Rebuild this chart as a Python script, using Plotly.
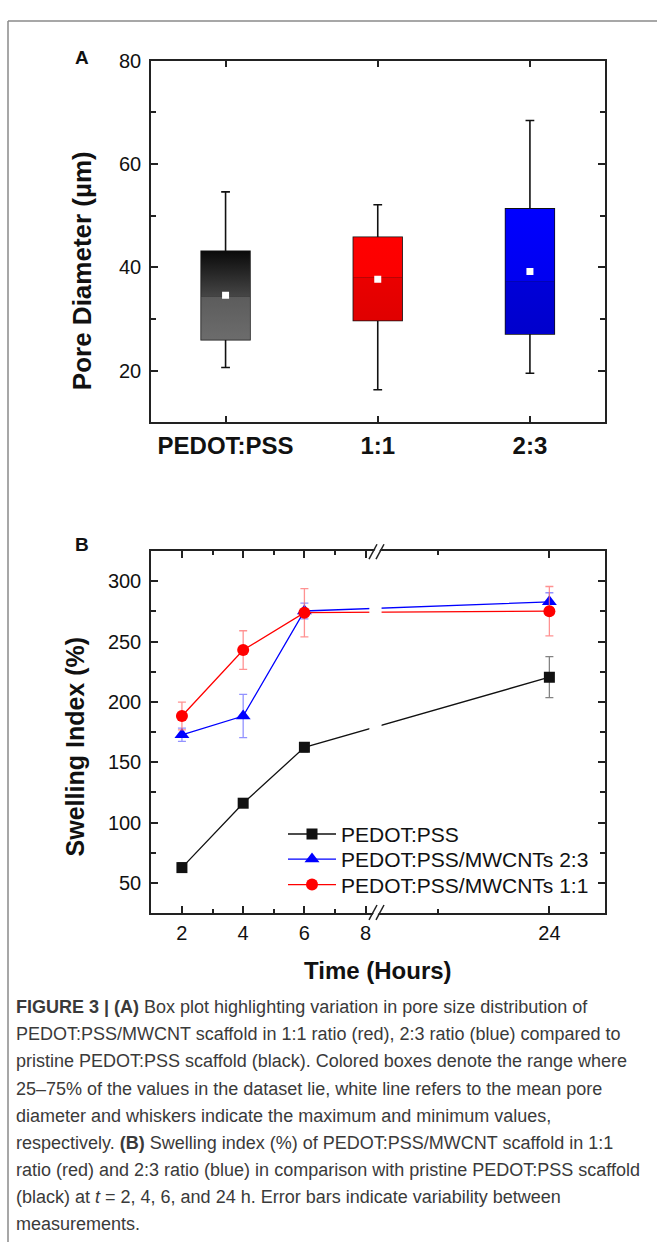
import plotly.graph_objects as go

W, H = 657, 1242

# ---------------- Panel A data (pore diameter, µm) ----------------
groups = ["PEDOT:PSS", "1:1", "2:3"]
q_min = [20.6, 16.3, 19.5]
q1 = [26.0, 29.7, 27.1]
median = [34.3, 38.0, 37.3]
q3 = [43.1, 45.8, 51.3]
q_max = [54.6, 52.1, 68.4]
mean = [34.6, 37.7, 39.2]
# upper-half / lower-half shading of each box: (top colour, bottom colour)
upper_shade = [("#0a0a0a", "#464646"), ("#ff0000", "#fb0000"), ("#0000ff", "#0000f0")]
lower_shade = [("#5c5c5c", "#6c6c6c"), ("#ea0000", "#e00000"), ("#0000d8", "#0000cc")]

# ---------------- Panel B data (swelling index, %) ----------------
hours = [2, 4, 6, 24]
series_names = ["PEDOT:PSS", "PEDOT:PSS/MWCNTs 2:3", "PEDOT:PSS/MWCNTs 1:1"]
swell_pedot = [62.6, 116.0, 162.3, 220.5]
err_pedot = [4, 3, 4, 17]
swell_23 = [172.7, 188.3, 275.4, 283.0]
err_23 = [5.5, 18, 6.5, 7.5]
swell_11 = [188.3, 243.0, 274.0, 275.2]
err_11 = [11.5, 16, 20, 20.5]

x_major = [2, 4, 6, 8, 24]
x_minor = [3, 5, 7, 20]

# broken time axis: hours up to the break are linear, after the break a compressed segment
BREAK_POS = 8.3
SEG2_H, SEG2_POS, SEG2_SCALE = 24, 14.0, 0.9125


def xpos(h):
    return h if h <= BREAK_POS else SEG2_POS + (h - SEG2_H) * SEG2_SCALE


FONT = "Liberation Sans, Arial, sans-serif"
AX = "#222222"

fig = go.Figure()

# ---- Panel A: shaded box halves ----
BOX_W = 0.32
for i in range(len(groups)):
    xs = [i - BOX_W / 2, i + BOX_W / 2, i + BOX_W / 2, i - BOX_W / 2, i - BOX_W / 2]
    for lo, hi, (ctop, cbot) in ((median[i], q3[i], upper_shade[i]), (q1[i], median[i], lower_shade[i])):
        fig.add_trace(go.Scatter(
            x=xs, y=[lo, lo, hi, hi, lo], mode="lines", fill="toself",
            line=dict(width=0, color=cbot),
            fillgradient=dict(type="vertical", colorscale=[[0, cbot], [1, ctop]]),
            xaxis="x", yaxis="y", showlegend=False, hoverinfo="skip"))

for i, g in enumerate(groups):
    fig.add_trace(go.Box(
        x=[i], q1=[q1[i]], median=[median[i]], q3=[q3[i]],
        lowerfence=[q_min[i]], upperfence=[q_max[i]],
        width=BOX_W, whiskerwidth=0.18, fillcolor="rgba(0,0,0,0)",
        line=dict(color="#111111", width=1.6), boxpoints=False,
        xaxis="x", yaxis="y", showlegend=False, hoverinfo="skip", name=g))

fig.add_trace(go.Scatter(
    x=list(range(len(groups))), y=mean, mode="markers",
    marker=dict(symbol="square", size=7, color="white", line=dict(width=0)),
    xaxis="x", yaxis="y", showlegend=False, hoverinfo="skip"))

# ---- Panel B ----
xp = [xpos(h) for h in hours]
specs = [
    (series_names[0], swell_pedot, err_pedot, "#111111", "rgba(90,90,90,0.75)", "square", 11, "legend"),
    (series_names[1], swell_23, err_23, "#0000ff", "rgba(110,110,255,0.75)", "triangle-up", 13, "legend2"),
    (series_names[2], swell_11, err_11, "#ff0000", "rgba(255,110,110,0.75)", "circle", 12, "legend3"),
]
for name, ys, es, col, ecol, sym, sz, lg in specs:
    fig.add_trace(go.Scatter(
        x=xp, y=ys, name=name, mode="lines+markers",
        line=dict(color=col, width=1.3),
        marker=dict(symbol=sym, size=sz, color=col),
        error_y=dict(type="data", array=es, visible=True, color=ecol, thickness=1.3, width=4),
        xaxis="x2", yaxis="y2", legend=lg))

XD = [151 / W, 604.5 / W]


def leg(yc):
    return dict(x=283 / W, y=1 - yc / H, xanchor="left", yanchor="middle",
                bgcolor="rgba(0,0,0,0)", font=dict(size=21, color="#111", family=FONT),
                itemwidth=48)


fig.update_layout(
    width=W, height=H, margin=dict(l=0, r=0, t=0, b=0),
    paper_bgcolor="white", plot_bgcolor="white",
    font=dict(family=FONT, color="#111111", size=20),
    xaxis=dict(domain=XD, anchor="y", range=[-0.49, 2.49],
               tickmode="array", tickvals=list(range(len(groups))),
               ticktext=["<b>%s</b>" % g for g in groups],
               tickfont=dict(size=24, color="#111"),
               ticks="inside", ticklen=7, tickwidth=1.5, tickcolor=AX,
               showline=True, linecolor=AX, linewidth=1.5, mirror="ticks",
               showgrid=False, zeroline=False, ticklabelstandoff=1),
    yaxis=dict(domain=[1 - 415 / H, 1 - 50 / H], anchor="x", range=[10, 80],
               tickmode="array", tickvals=[20, 40, 60, 80],
               minor=dict(tickmode="array", tickvals=[30, 50, 70], ticks="inside",
                          ticklen=5, tickwidth=1.5, tickcolor=AX),
               tickfont=dict(size=20, color="#111"),
               ticks="inside", ticklen=7, tickwidth=1.5, tickcolor=AX,
               showline=True, linecolor=AX, linewidth=1.5, mirror="ticks",
               showgrid=False, zeroline=False, ticklabelstandoff=4),
    xaxis2=dict(domain=XD, anchor="y2", range=[0.99, 15.8],
                tickmode="array", tickvals=[xpos(h) for h in x_major],
                ticktext=[str(h) for h in x_major],
                minor=dict(tickmode="array", tickvals=[xpos(h) for h in x_minor], ticks="inside",
                           ticklen=4, tickwidth=1.5, tickcolor=AX),
                tickfont=dict(size=20, color="#111"),
                ticks="inside", ticklen=7, tickwidth=1.5, tickcolor=AX,
                showline=True, linecolor=AX, linewidth=1.5, mirror="ticks",
                showgrid=False, zeroline=False, ticklabelstandoff=1),
    yaxis2=dict(domain=[1 - 910 / H, 1 - 545 / H], anchor="x2", range=[25, 325],
                tickmode="array", tickvals=[50, 100, 150, 200, 250, 300],
                minor=dict(tickmode="array", tickvals=[75, 125, 175, 225, 275], ticks="inside",
                           ticklen=5, tickwidth=1.5, tickcolor=AX),
                tickfont=dict(size=20, color="#111"),
                ticks="inside", ticklen=7, tickwidth=1.5, tickcolor=AX,
                showline=True, linecolor=AX, linewidth=1.5, mirror="ticks",
                showgrid=False, zeroline=False, ticklabelstandoff=4),
    legend=leg(830.7), legend2=leg(856), legend3=leg(881.7),
    showlegend=True,
)

# ---- break decorations on the time axis ----
shapes = []
# gap in the data lines at the break
shapes.append(dict(type="rect", xref="x2", yref="y2", x0=8.12, x1=8.52, y0=120, y1=310,
                   fillcolor="white", line=dict(width=0), layer="above"))


def px(x):
    return x / W


def py(y):
    return 1 - y / H


for yb in (553, 917):
    yt = yb - 15
    a0, a1 = 369, 377
    b0, b1 = 376, 384
    shapes.append(dict(type="path", xref="paper", yref="paper",
                       path="M %f,%f L %f,%f L %f,%f L %f,%f Z" % (px(a0 + 1), py(yb), px(a1 + 1), py(yt),
                                                                     px(b1 - 1), py(yt), px(b0 - 1), py(yb)),
                       fillcolor="white", line=dict(width=0), layer="above"))
    for s0, s1 in ((a0, a1), (b0, b1)):
        shapes.append(dict(type="line", xref="paper", yref="paper",
                           x0=px(s0), y0=py(yb), x1=px(s1), y1=py(yt),
                           line=dict(color=AX, width=1.5), layer="above"))

# ---- figure frame ----
shapes.append(dict(type="line", xref="paper", yref="paper", x0=px(8), x1=1, y0=py(10), y1=py(10),
                   line=dict(color="#8a8a8a", width=1.5)))
shapes.append(dict(type="line", xref="paper", yref="paper", x0=px(8), x1=px(8), y0=py(10), y1=0,
                   line=dict(color="#8a8a8a", width=1.5)))
fig.update_layout(shapes=shapes)

# ---- titles and labels ----
ann = []


def label(text, x, y, size, angle=0, bold=True, anchor="center"):
    ann.append(dict(text=("<b>%s</b>" % text) if bold else text, x=px(x), y=py(y),
                    xref="paper", yref="paper", showarrow=False, textangle=angle,
                    xanchor=anchor, yanchor="middle",
                    font=dict(family=FONT, size=size, color="#111")))


label("A", 82, 46.5, 19)
label("B", 82, 538, 19)
label("Pore Diameter (µm)", 82, 262.5, 26, angle=-90)
label("Swelling Index (%)", 75, 743, 25, angle=-90)
label("Time (Hours)", 378, 968, 24)

caption = [
    "<b>FIGURE 3 | (A)</b> Box plot highlighting variation in pore size distribution of",
    "PEDOT:PSS/MWCNT scaffold in 1:1 ratio (red), 2:3 ratio (blue) compared to",
    "pristine PEDOT:PSS scaffold (black). Colored boxes denote the range where",
    "25–75% of the values in the dataset lie, white line refers to the mean pore",
    "diameter and whiskers indicate the maximum and minimum values,",
    "respectively. <b>(B)</b> Swelling index (%) of PEDOT:PSS/MWCNT scaffold in 1:1",
    "ratio (red) and 2:3 ratio (blue) in comparison with pristine PEDOT:PSS scaffold",
    "(black) at <i>t</i> = 2, 4, 6, and 24 h. Error bars indicate variability between",
    "measurements.",
]
for k, line in enumerate(caption):
    ann.append(dict(text=line, x=px(14), y=py(1005 + k * 27.4), xref="paper", yref="paper",
                    showarrow=False, xanchor="left", yanchor="middle", align="left",
                    font=dict(family=FONT, size=18, color="#3a3a3a")))

fig.update_layout(annotations=ann)
fig.write_html(
    "out.html",
    config={"displayModeBar": False},
    post_script=(
        "document.documentElement.style.margin='0';document.documentElement.style.padding='0';"
        "document.body.style.margin='0';document.body.style.padding='0';"
        "document.body.style.overflow='hidden';"
        "var d=document.getElementById('{plot_id}');"
        "d.style.position='fixed';d.style.top='0px';d.style.left='0px';"
    ),
)
